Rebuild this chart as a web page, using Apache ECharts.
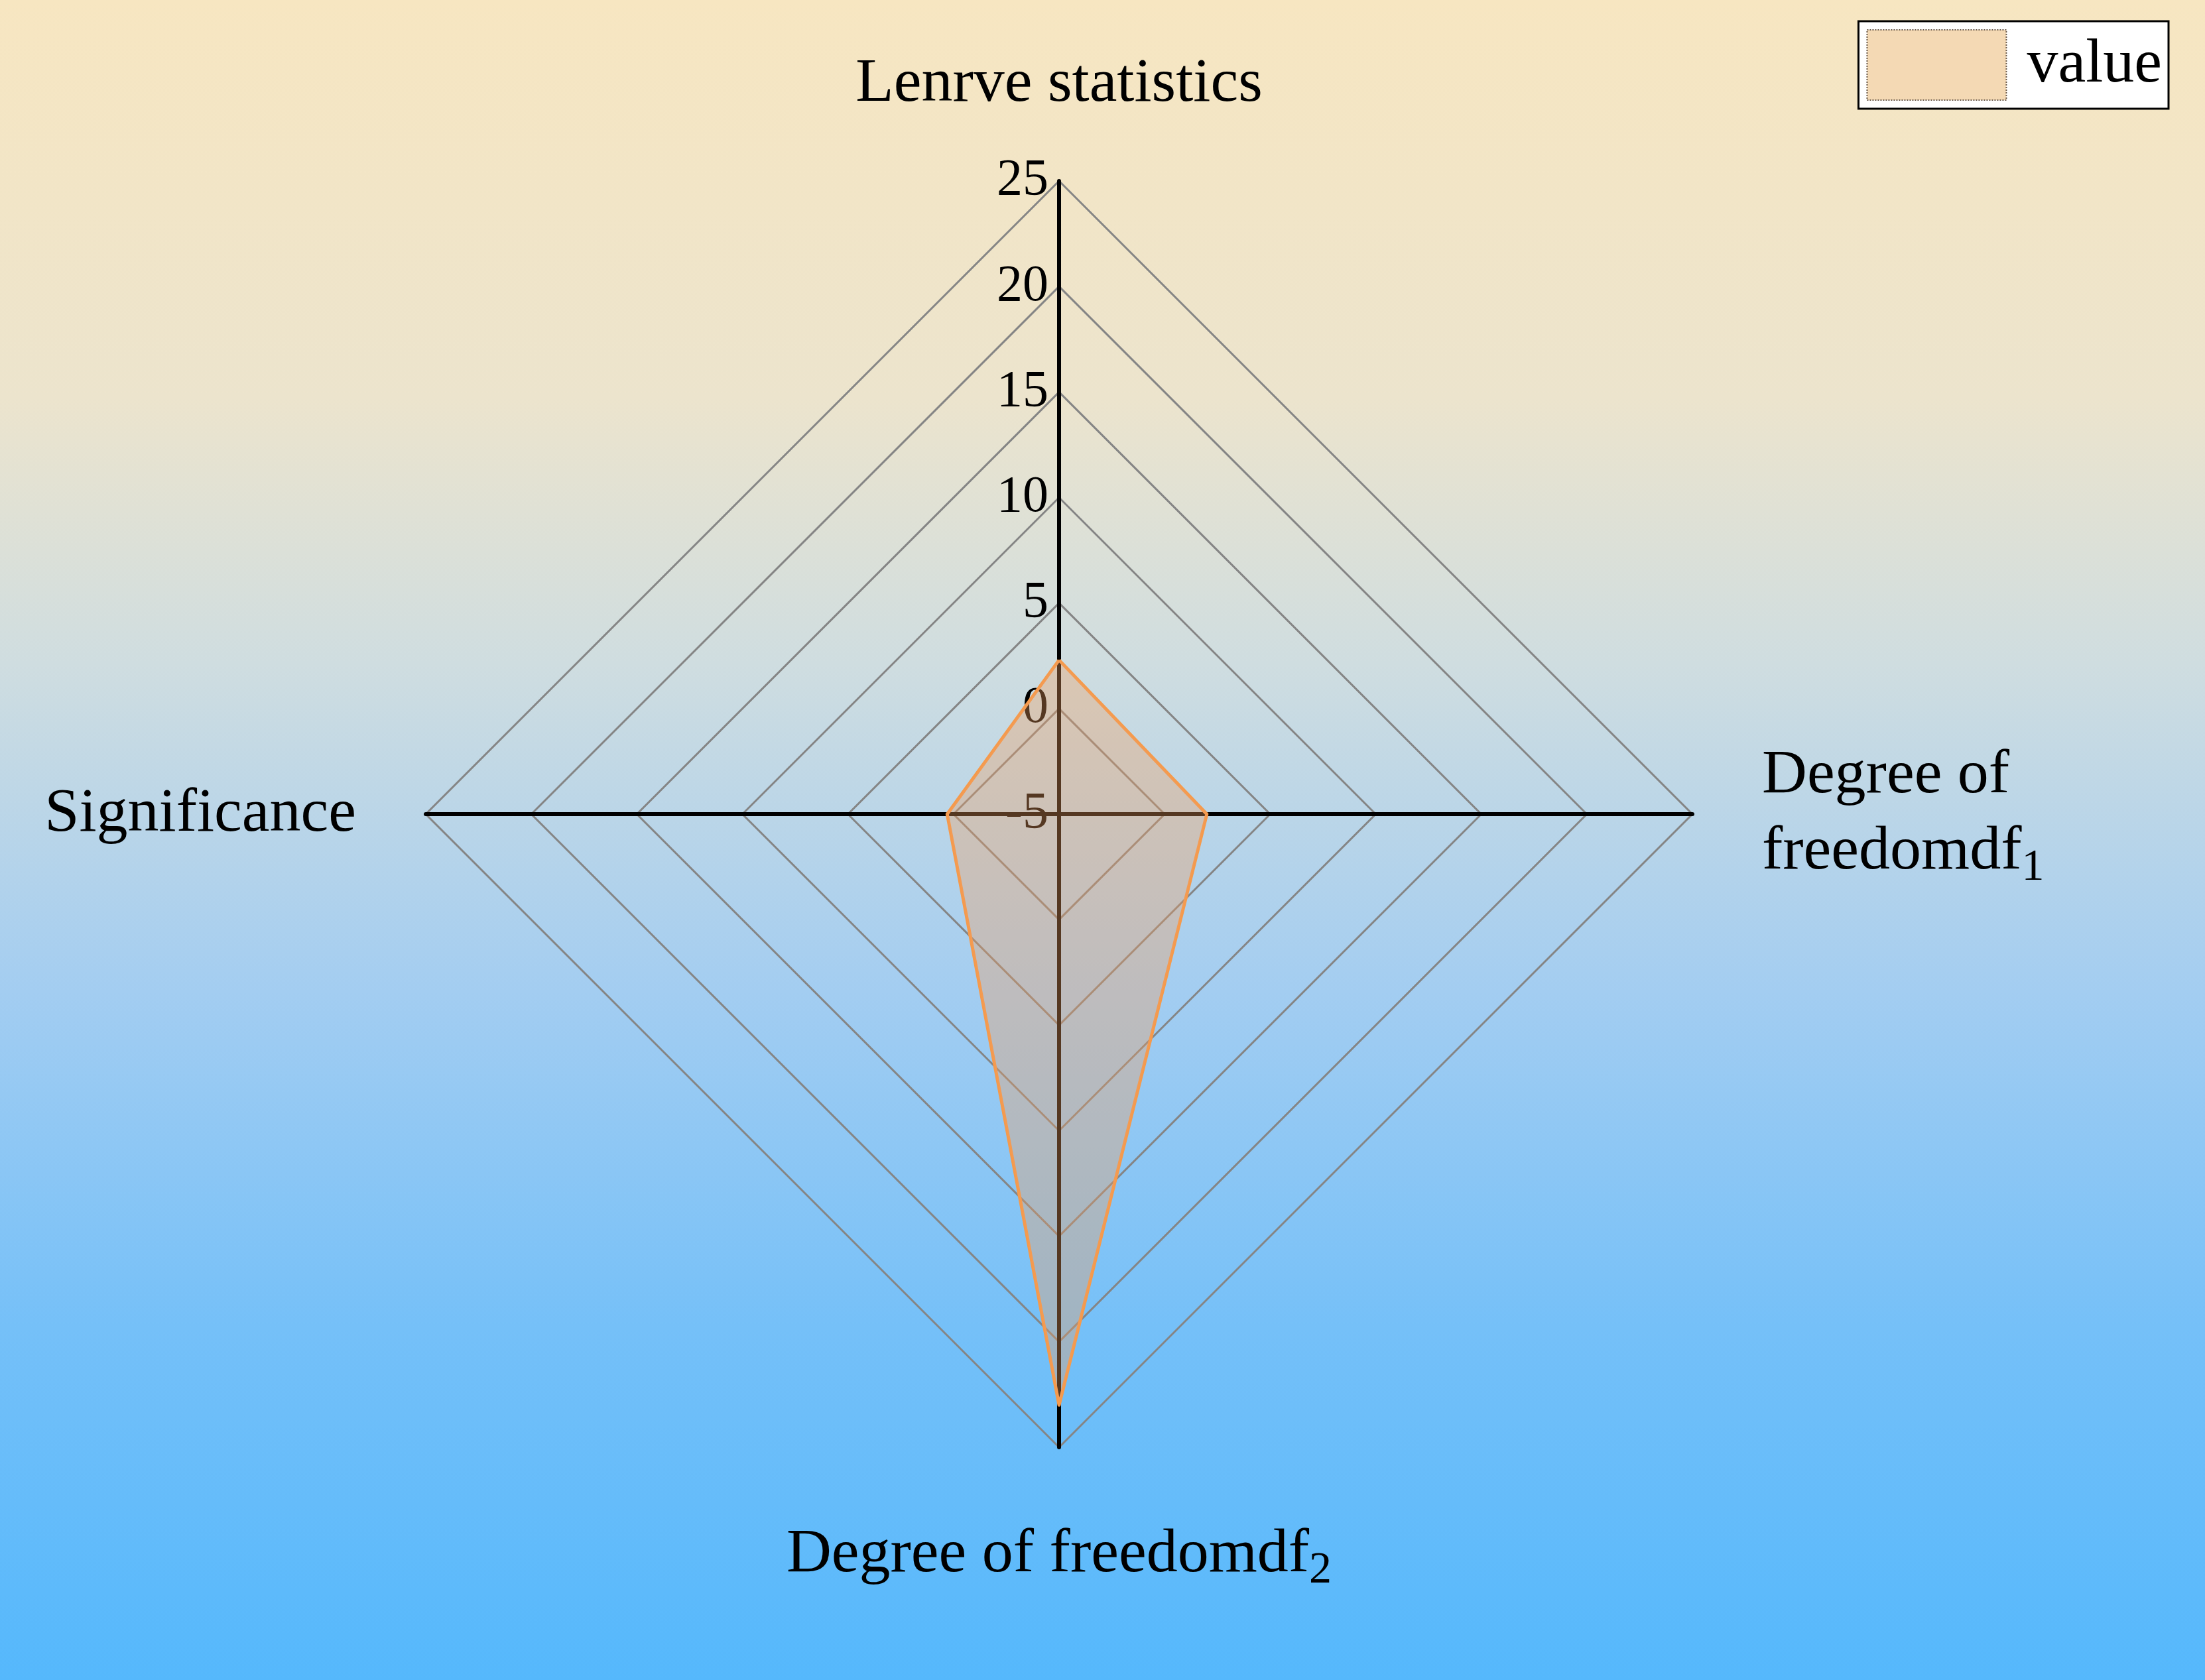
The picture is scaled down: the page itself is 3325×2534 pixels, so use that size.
<!DOCTYPE html>
<html>
<head>
    <meta charset="utf-8">
    <title>Radar</title>
    <script src="https://cdn.jsdelivr.net/npm/echarts@6/dist/echarts.min.js"></script>
    <style>
        html, body { margin: 0; padding: 0; }
        #chart1 { width: 3325px; height: 2534px; }
    </style>
</head>
<body>
<div id="chart1"></div>
<script type="text/javascript">
    // indicators, counter-clockwise from the top (ECharts radar order)
    var categories = ['Lenrve statistics', 'Significance', 'Degree of freedomdf2', 'Degree of freedomdf1'];
    var values = [2.3, 0.3, 23, 2.0];
    var seriesName = 'value';
    var axisMin = -5;
    var axisMax = 25;

    // names as drawn, with subscripts
    var nameLabels = {
        'Lenrve statistics': 'Lenrve statistics',
        'Significance': 'Significance',
        'Degree of freedomdf2': 'Degree of freedomdf{sub|2}',
        'Degree of freedomdf1': 'Degree of\nfreedomdf{sub|1}'
    };

    var serif = '"Liberation Serif", "Times New Roman", serif';

    var chart = echarts.init(document.getElementById('chart1'));
    chart.setOption({
        backgroundColor: {
            type: 'linear', x: 0, y: 0, x2: 0, y2: 1,
            colorStops: [
                { offset: 0, color: '#f7e6c1' },
                { offset: 0.237, color: '#ece4cd' },
                { offset: 0.395, color: '#cfdde0' },
                { offset: 0.59, color: '#a3cdf1' },
                { offset: 0.79, color: '#75c0f8' },
                { offset: 1, color: '#55b8fc' }
            ]
        },
        legend: {
            right: 55,
            top: 32,
            orient: 'vertical',
            backgroundColor: '#ffffff',
            borderColor: '#000000',
            borderWidth: 3,
            padding: [12, 10, 12, 12],
            itemWidth: 210,
            itemHeight: 106,
            data: [{
                name: seriesName,
                icon: 'rect',
                itemStyle: { color: '#f4d9b4', borderColor: '#6a5a4a', borderWidth: 2, borderType: 'dotted' }
            }],
            textStyle: { fontFamily: serif, fontSize: 94, color: '#000', padding: [0, 0, 0, 26] }
        },
        radar: {
            center: [1597, 1228],
            radius: 955,
            startAngle: 90,
            shape: 'polygon',
            splitNumber: 6,
            indicator: categories.map(function (c, i) {
                var ind = { name: c, min: axisMin, max: axisMax };
                if (i === 0) {
                    ind.axisLabel = { show: true };
                    ind.nameGap = 88;
                }
                return ind;
            }),
            nameGap: 105,
            axisName: {
                color: '#000',
                fontFamily: serif,
                fontSize: 94,
                lineHeight: 115,
                formatter: function (name) { return nameLabels[name] || name; },
                rich: {
                    sub: { fontFamily: serif, fontSize: 68, lineHeight: 50, verticalAlign: 'bottom', color: '#000' }
                }
            },
            axisLine: { lineStyle: { color: '#000', width: 6 } },
            axisTick: { show: false },
            axisLabel: {
                show: false,
                margin: 16,
                color: '#000',
                fontFamily: serif,
                fontSize: 78
            },
            splitLine: { lineStyle: { color: '#858585', width: 3 } },
            splitArea: { show: false }
        },
        series: [{
            name: seriesName,
            type: 'radar',
            symbol: 'none',
            lineStyle: { color: '#f59a4c', width: 5 },
            itemStyle: { color: '#f4d9b4' },
            areaStyle: { color: 'rgba(240, 160, 95, 0.5)' },
            data: [{ name: seriesName, value: values }]
        }]
    });
</script>
</body>
</html>
